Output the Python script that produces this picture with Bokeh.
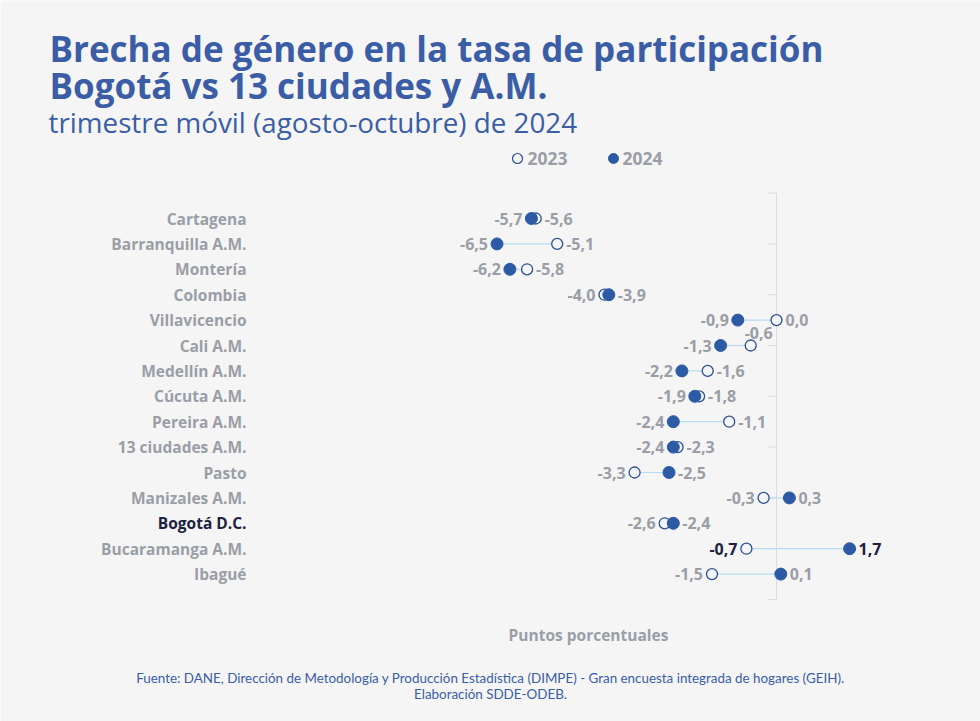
from bokeh.plotting import figure
from bokeh.models import Range1d, Label
from bokeh.core.properties import value
from bokeh.embed import file_html
from bokeh.resources import INLINE

# ---------------- data ----------------
categories = ["Cartagena", "Barranquilla A.M.", "Montería", "Colombia", "Villavicencio",
              "Cali A.M.", "Medellín A.M.", "Cúcuta A.M.", "Pereira A.M.", "13 ciudades A.M.",
              "Pasto", "Manizales A.M.", "Bogotá D.C.", "Bucaramanga A.M.", "Ibagué"]
v2023 = [-5.6, -5.1, -5.8, -4.0, 0.0, -0.6, -1.6, -1.8, -1.1, -2.3, -3.3, -0.3, -2.6, -0.7, -1.5]
v2024 = [-5.7, -6.5, -6.2, -3.9, -0.9, -1.3, -2.2, -1.9, -2.4, -2.4, -2.5, 0.3, -2.4, 1.7, 0.1]
series_names = ["2023", "2024"]
highlight_category = "Bogotá D.C."
emphasized_value_category = "Bucaramanga A.M."
raised_label_category = "Cali A.M."

title_lines = ["Brecha de género en la tasa de participación", "Bogotá vs 13 ciudades y A.M."]
subtitle = "trimestre móvil (agosto-octubre) de 2024"
x_title = "Puntos porcentuales"
source_lines = ["Fuente: DANE, Dirección de Metodología y Producción Estadística (DIMPE) - Gran encuesta integrada de hogares (GEIH).",
                "Elaboración SDDE-ODEB."]

# ---------------- style / layout ----------------
W, H = 980, 721
BG = "#f5f5f5"
BLUE = "#3a5da6"
DOT = "#2d5aa5"
RING = "#2e4f8f"
GRAY = "#9a9ea6"
DARK = "#1c2140"
LINK = "#b5dcf2"
AXIS = "#dcdcdc"
FONT = "Lato"
WIDE = "Open Sans"

X0, SX = 776.0, 43.0      # pixel of value 0, pixels per unit
ROW0, ROWH = 218.0, 25.4  # pixel of first row, pixels per row


def X(px):
    return (px - X0) / SX


def Y(py):
    return (py - ROW0) / ROWH


def fmt(v):
    return f"{v:.1f}".replace(".", ",")


p = figure(width=W, height=H, output_backend="svg", toolbar_location=None, tools="",
           x_range=Range1d(X(0), X(W)), y_range=Range1d(Y(H), Y(0)),
           x_axis_location=None, y_axis_location=None, min_border=0,
           background_fill_color=BG, border_fill_color=BG, outline_line_color=None)
p.grid.visible = False

rows = list(range(len(categories)))

# vertical zero line with ticks every two rows
p.segment(x0=[0], x1=[0], y0=[-1], y1=[len(categories)], line_color=AXIS, line_width=1)
tick_rows = list(range(-1, len(categories) + 1, 2))
p.segment(x0=[X(X0 - 8)] * len(tick_rows), x1=[0] * len(tick_rows), y0=tick_rows, y1=tick_rows,
          line_color=AXIS, line_width=1)

# connectors and dots
p.segment(x0=v2023, x1=v2024, y0=rows, y1=rows, line_color=LINK, line_width=1.2)
p.scatter(x=v2023, y=rows, size=11, marker="circle", fill_color="#f2f5fb",
          line_color=RING, line_width=1.3)
p.scatter(x=v2024, y=rows, size=12, marker="circle", fill_color=DOT, line_color=DOT)

# category labels
cat_colors = [DARK if c == highlight_category else GRAY for c in categories]
p.text(x=[X(246)] * len(categories), y=rows, text=categories, text_align="right",
       text_baseline="middle", text_font=value(WIDE), text_font_style="bold",
       text_font_size="15.5px", text_color=cat_colors)

# value labels
gap = 9 / SX
lx, ly, lt, lc = [], [], [], []
rx, ry, rt, rc = [], [], [], []
ax, ay, at, ac = [], [], [], []
for i, c in enumerate(categories):
    a, b = v2023[i], v2024[i]
    lo, hi = (a, b) if a < b else (b, a)
    col = DARK if c == emphasized_value_category else GRAY
    lx.append(lo - gap); ly.append(i); lt.append(fmt(lo)); lc.append(col)
    if c == raised_label_category:
        ax.append(hi + 8 / SX); ay.append(i - 13 / ROWH); at.append(fmt(hi)); ac.append(col)
    else:
        rx.append(hi + gap); ry.append(i); rt.append(fmt(hi)); rc.append(col)

common = dict(text_baseline="middle", text_font=value(WIDE), text_font_style="bold",
              text_font_size="16px")
p.text(x=lx, y=ly, text=lt, text_align="right", text_color=lc, **common)
p.text(x=rx, y=ry, text=rt, text_align="left", text_color=rc, **common)
p.text(x=ax, y=ay, text=at, text_align="center", text_color=ac, **common)

# legend
leg_y = Y(158)
p.scatter(x=[X(517)], y=[leg_y], size=10, marker="circle", fill_color="#f2f5fb",
          line_color=RING, line_width=1.2)
p.scatter(x=[X(613)], y=[leg_y], size=10, marker="circle", fill_color=DOT, line_color=DOT)
p.text(x=[X(527), X(622)], y=[leg_y, leg_y], text=series_names, text_align="left",
       text_color=GRAY, text_baseline="middle", text_font=value(WIDE), text_font_style="bold",
       text_font_size="17.5px")

# titles
p.add_layout(Label(x=X(49), y=Y(48), text=title_lines[0], text_font=WIDE, text_font_style="bold",
                   text_font_size="35px", text_color=BLUE, text_baseline="middle"))
p.add_layout(Label(x=X(49), y=Y(85), text=title_lines[1], text_font=WIDE, text_font_style="bold",
                   text_font_size="35px", text_color=BLUE, text_baseline="middle"))
p.add_layout(Label(x=X(48), y=Y(121), text=subtitle, text_font=WIDE, text_font_style="normal",
                   text_font_size="27.8px", text_color=BLUE, text_baseline="middle"))

# axis title
p.add_layout(Label(x=X(588), y=Y(634), text=x_title, text_font=WIDE, text_font_style="bold",
                   text_font_size="15.5px", text_color=GRAY, text_align="center",
                   text_baseline="middle"))

# source
for k, line in enumerate(source_lines):
    p.add_layout(Label(x=X(490), y=Y(677 + 16 * k), text=line, text_font=FONT,
                       text_font_size="13.4px", text_color=BLUE, text_align="center",
                       text_baseline="middle"))

open("out.html", "w").write(file_html(p, INLINE))
